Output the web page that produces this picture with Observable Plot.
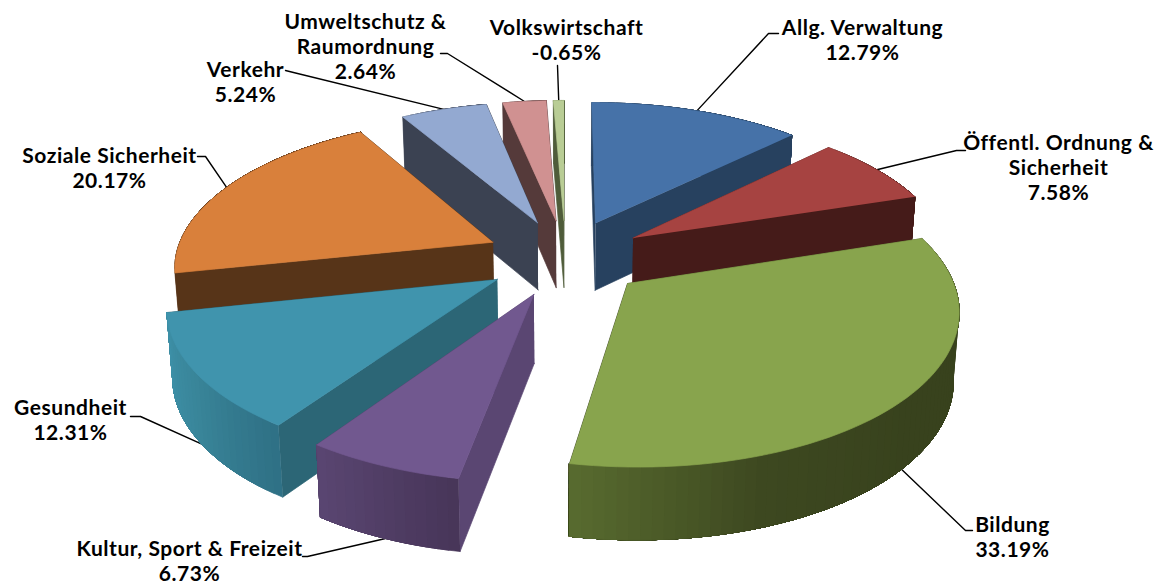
<!DOCTYPE html>
<html><head><meta charset="utf-8">
<style>html,body{margin:0;padding:0;background:#fff}svg{display:block}</style>
<script src="https://cdn.jsdelivr.net/npm/d3@7"></script>
<script src="https://cdn.jsdelivr.net/npm/@observablehq/plot@0.6"></script>
</head><body><div id="chart"></div>
<script>
const categories = ["Allg. Verwaltung","Öffentl. Ordnung &\nSicherheit","Bildung","Kultur, Sport & Freizeit","Gesundheit","Soziale Sicherheit","Verkehr","Umweltschutz &\nRaumordnung","Volkswirtschaft"];
const shares = [12.79,7.58,33.19,6.73,12.31,20.17,5.24,2.64,-0.65];
const topColors = ["#4672a8","#a64341","#88a44d","#71588f","#4094ad","#d9803b","#93a9d1","#d09191","#b9cd95"];
const wallColors = ["#27415f","#451b19","#38421d","#5a4672","#2c6676","#573418","#3b4252","#553a3a","#4f5c3a"];
const arcStops = [["#27415f"],["#451b19"],["#38421d","#38421d","#38421d","#3d4820","#586b2f"],["#473558","#5a4672"],["#2f7085","#398599","#3e92a9"],["#573418"],["#3b4252"],["#553a3a"],["#4f5c3a"]];
const labelX = [862,1058,1012,189,70,109,245,365,566];
const labelY = [28,143,525,549,408,156,70,22,28];
const leaderElbows = [[[778,33],[768,33]],[[965,150],[956,150]],[[972,530],[965,530]],[[302,556],[307,556]],[[130,416],[140,416]],[[197,156],[205,156]],[[285,70],[293,72]],[[440,53],[447,53]],[[557,65]]];

const cam = {cx:565,cy:257,Rx:318,Ry:308,k:.48,D:6.76,h:68,explodeX:.253,explodeY:.26};
function proj(X,Y,Z){
  const p = cam.D/(cam.D-Y);
  return {x:cam.cx+cam.Rx*X*p*(1-.015*Z), y:cam.cy+cam.Ry*cam.k*Y*p+Z*cam.h*(1+.06*Y), Y};
}
const total = d3.sum(shares,Math.abs);
let acc = 0;
const slices = shares.map((v,i)=>{
  const a0 = acc/total*2*Math.PI; acc += Math.abs(v);
  const a1 = acc/total*2*Math.PI, m=(a0+a1)/2;
  const ox = cam.explodeX*Math.sin(m), oy = -cam.explodeY*Math.cos(m);
  return {i,a0,a1,m,ox,oy};
});
const rim = (s,a)=>[s.ox+Math.sin(a), s.oy-Math.cos(a)];
const faces = [];
function face(id,pts,c){pts.forEach(q=>faces.push({id,x:q.x,y:q.y,c}));}
const order = slices.slice().sort((a,b)=>a.oy-b.oy);
for(const s of order){
  const i=s.i, n=Math.max(4,Math.ceil((s.a1-s.a0)/(Math.PI/100)));
  const ang=d3.range(n+1).map(j=>s.a0+(s.a1-s.a0)*j/n);
  const walls=[];
  for(const [name,a] of [["s",s.a0],["e",s.a1]]){
    const [X,Y]=rim(s,a);
    walls.push({Y:(Y+s.oy)/2,draw(){face(`w${i}${name}`,[proj(s.ox,s.oy,0),proj(X,Y,0),proj(X,Y,1),proj(s.ox,s.oy,1)],wallColors[i]);}});
  }
  const stops=arcStops[i];
  const col=stops.length>1?d3.piecewise(d3.interpolateRgb,stops):()=>stops[0];
  walls.push({Y:d3.mean(ang,a=>rim(s,a)[1]),draw(){
    // each strip runs from its own angle to the end of the arc, so later strips paint over earlier ones without seams
    for(let j=0;j<n;j++){
      const run=ang.slice(j);
      const top=run.map(a=>{const r=rim(s,a);return proj(r[0],r[1],0);});
      const bot=run.map(a=>{const r=rim(s,a);return proj(r[0],r[1],1);}).reverse();
      face(`a${i}_${j}`,[...top,...bot],d3.color(col((j+.5)/n)).formatHex());
    }
  }});
  walls.sort((a,b)=>a.Y-b.Y).forEach(w=>w.draw());
  face(`t${i}`,[proj(s.ox,s.oy,0),...ang.map(a=>{const r=rim(s,a);return proj(r[0],r[1],0);})],topColors[i]);
}
const leaders=[];
slices.forEach(s=>{
  const r=rim(s,s.m), e=proj(r[0],r[1],r[1]>0?1:0);
  [...leaderElbows[s.i].map(([x,y])=>({x,y})),e].forEach(q=>leaders.push({id:s.i,x:q.x,y:q.y}));
});
const fmt=v=>v.toFixed(2)+"%";
const labels=categories.map((c,i)=>({t:c+"\n"+fmt(shares[i]),x:labelX[i],y:labelY[i]}));

const chart=Plot.plot({
  width:1165,height:585,margin:0,
  x:{domain:[0,1165],range:[0,1165],axis:null},
  y:{domain:[0,585],range:[0,585],axis:null},
  color:{type:"identity"},
  style:{background:"#fff",letterSpacing:"0.55px"},
  marks:[
    Plot.line(leaders,{x:"x",y:"y",z:"id",stroke:"#000",strokeWidth:1.4}),
    Plot.line(faces,{x:"x",y:"y",z:"id",fill:"c",stroke:"c",strokeWidth:.7}),
    Plot.text(labels,{x:"x",y:"y",text:"t",lineAnchor:"top",dy:-11,lineHeight:1.19,fontFamily:"Lato",fontWeight:700,fontSize:21,fill:"#000",textAnchor:"middle"})
  ]
});
document.getElementById("chart").append(chart);
</script></body></html>
